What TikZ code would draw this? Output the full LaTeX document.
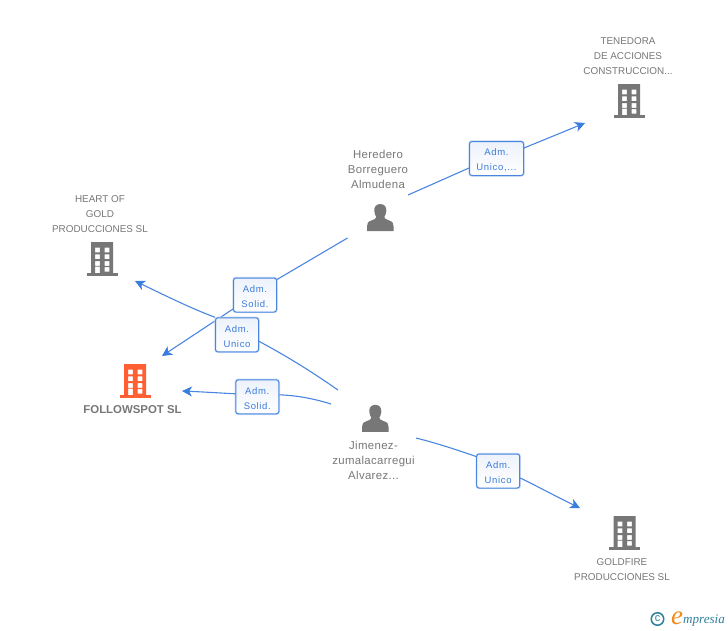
\documentclass[tikz,border=0pt]{standalone}
\usepackage{fontspec}
\setmainfont{Liberation Sans}
\newfontfamily\labelfont[LetterSpace=7]{Liberation Sans}
\newfontfamily\namefont[LetterSpace=3]{Liberation Sans}
\newfontfamily\logofont{Liberation Serif}
\usetikzlibrary{arrows.meta}
\definecolor{linkblue}{HTML}{4A86E0}
\definecolor{tipblue}{HTML}{3B7DDD}
\definecolor{labelblue}{HTML}{3A7BDC}
\definecolor{glow}{HTML}{C4D9F5}
\definecolor{boxtint}{HTML}{EDF2FB}
\definecolor{nodegray}{HTML}{777777}
\definecolor{iconorange}{HTML}{FF5F33}
\definecolor{logoteal}{HTML}{2F7F9B}
\definecolor{logoorange}{HTML}{F08A1D}
\newcommand{\rolestrut}{\rule{0pt}{9.6pt}}
\tikzset{
  x=1pt,y=-1pt,
  linkline/.style={draw=linkblue,line width=1.1pt},
  linkarrow/.style={linkline,-{Stealth[length=10pt,width=10pt,inset=2.8pt,color=tipblue]}},
  rolebox/.style={draw=linkblue,line width=1pt,rounded corners=2.5pt,
    top color=boxtint,bottom color=white,
    inner sep=0pt,minimum height=34pt,align=center,font=\labelfont\fontsize{9.5}{15}\selectfont,text=labelblue,
    preaction={draw=glow,line width=2.4pt}},
  namelabel/.style={align=center,font=\fontsize{9.9}{15}\selectfont,text=nodegray,inner sep=0pt},
  personlabel/.style={align=center,font=\namefont\fontsize{11.4}{15}\selectfont,text=nodegray,inner sep=0pt},
  pics/building/.style={code={
    \fill[#1,even odd rule] (-11,-17) rectangle (11,14)
      (-7,-11.4) rectangle (-2.2,-6.6) (2.6,-11.4) rectangle (7.4,-6.6)
      (-7,-4.6) rectangle (-2.2,0) (2.6,-4.6) rectangle (7.4,0)
      (-7,2.2) rectangle (-2.2,6.8) (2.6,2.2) rectangle (7.4,6.8)
      (-7,7.6) rectangle (-2.2,14) (2.6,8.2) rectangle (7.4,12.6);
    \fill[#1] (-15.5,14) rectangle (15.5,17);
  }},
  pics/person/.style={code={
    \fill[nodegray] (0,-13.5) .. controls (-4.6,-13.5) and (-6.3,-10) .. (-6,-6.5)
      .. controls (-5.8,-3.5) and (-4.8,-2) .. (-4,-0.5) .. controls (-3.8,1) and (-6,2) .. (-9,3)
      .. controls (-12.5,4.2) and (-13.3,6) .. (-13.3,9) -- (-13.3,13.5) -- (13.3,13.5) -- (13.3,9)
      .. controls (13.3,6) and (12.5,4.2) .. (9,3) .. controls (6,2) and (3.8,1) .. (4,-0.5)
      .. controls (4.8,-2) and (5.8,-3.5) .. (6,-6.5) .. controls (6.3,-10) and (4.6,-13.5) .. (0,-13.5) -- cycle;
  }},
}
\begin{document}
\begin{tikzpicture}
\useasboundingbox (0,0) rectangle (728,630);
% icons
\pic at (629,101) {building=nodegray};
\pic at (102,259) {building=nodegray};
\pic at (135,381) {building=iconorange};
\pic at (624.5,533) {building=nodegray};
\pic at (380.3,217.5) {person};
\pic at (375.3,418.3) {person};
% names
\node[namelabel] (tenedora) at (628,55.6) {TENEDORA\\DE ACCIONES\\CONSTRUCCION...};
\node[namelabel] (heart) at (100,213.6) {HEART OF\\GOLD\\PRODUCCIONES SL};
\node[namelabel,font=\bfseries\fontsize{11.4}{15}\selectfont] (follow) at (132.5,409.3) {FOLLOWSPOT SL};
\node[namelabel] (goldfire) at (622,569.6) {GOLDFIRE\\PRODUCCIONES SL};
\node[personlabel] (heredero) at (378,169.6) {Heredero\\Borreguero\\Almudena};
\node[personlabel] (jimenez) at (373.5,460.6) {Jimenez-\\zumalacarregui\\Alvarez...};
% free ends
\coordinate (h1) at (408,195);
\coordinate (h2) at (347.5,238);
\coordinate (j1) at (338,390);
\coordinate (j2) at (331,404);
\coordinate (j3) at (416,438);
\coordinate (t1) at (585,123);
\coordinate (t2) at (162,356);
\coordinate (t3) at (135,281);
\coordinate (t4) at (182,391);
\coordinate (t5) at (580,508);
% role boxes
\node[rolebox,minimum width=54pt] (r1) at (496.5,158.5) {\rolestrut Adm.\\Unico,...};
\node[rolebox,minimum width=43pt] (r2) at (255,295) {\rolestrut Adm.\\Solid.};
\node[rolebox,minimum width=43pt] (r4) at (257.3,396.8) {\rolestrut Adm.\\Solid.};
\node[rolebox,minimum width=43pt] (r5) at (498.2,471) {\rolestrut Adm.\\Unico};
% connectors
\draw[linkline] (h1) -- ([yshift=-9.5pt]r1.west);
\draw[linkarrow] ([yshift=10.5pt]r1.east) -- (t1);
\draw[linkline] (h2) -- ([yshift=15.5pt]r2.east);
\draw[linkarrow] ([yshift=-14pt]r2.west) -- (t2);
\draw[linkline] (j2) .. controls (315,399) and (298,395.5) .. ([yshift=2pt]r4.east);
\draw[linkarrow] ([yshift=3pt]r4.west) .. controls (220,393) and (205,392) .. (t4);
\draw[linkline] (j3) .. controls (440,444) and (460,451) .. ([yshift=14.5pt]r5.west);
\draw[linkarrow] ([yshift=-7pt]r5.east) .. controls (535,485) and (555,496) .. (t5);
% this box stands over the crossing line
\node[rolebox,minimum width=43pt] (r3) at (237,334.8) {\rolestrut Adm.\\Unico};
\draw[linkline] (j1) .. controls (312,372) and (290,358) .. ([yshift=-6.5pt]r3.east);
\draw[linkarrow] (r3.north west) .. controls (190,308) and (160,293) .. (t3);
% logo
\node[circle,draw=logoteal,line width=1.5pt,minimum size=12.5pt,inner sep=0pt,text=logoteal,font=\fontsize{11}{11}\selectfont] (copyr) at (657.5,619) {c};
\node[anchor=base west,inner sep=0pt,text=logoorange,font=\logofont\itshape\fontsize{27}{27}\selectfont] (logoe) at (671,624) {e};
\node[anchor=base west,inner sep=0pt,text=logoteal,font=\logofont\itshape\fontsize{13.1}{14}\selectfont] (logow) at (683,623.5) {mpresia};
\end{tikzpicture}
\end{document}
